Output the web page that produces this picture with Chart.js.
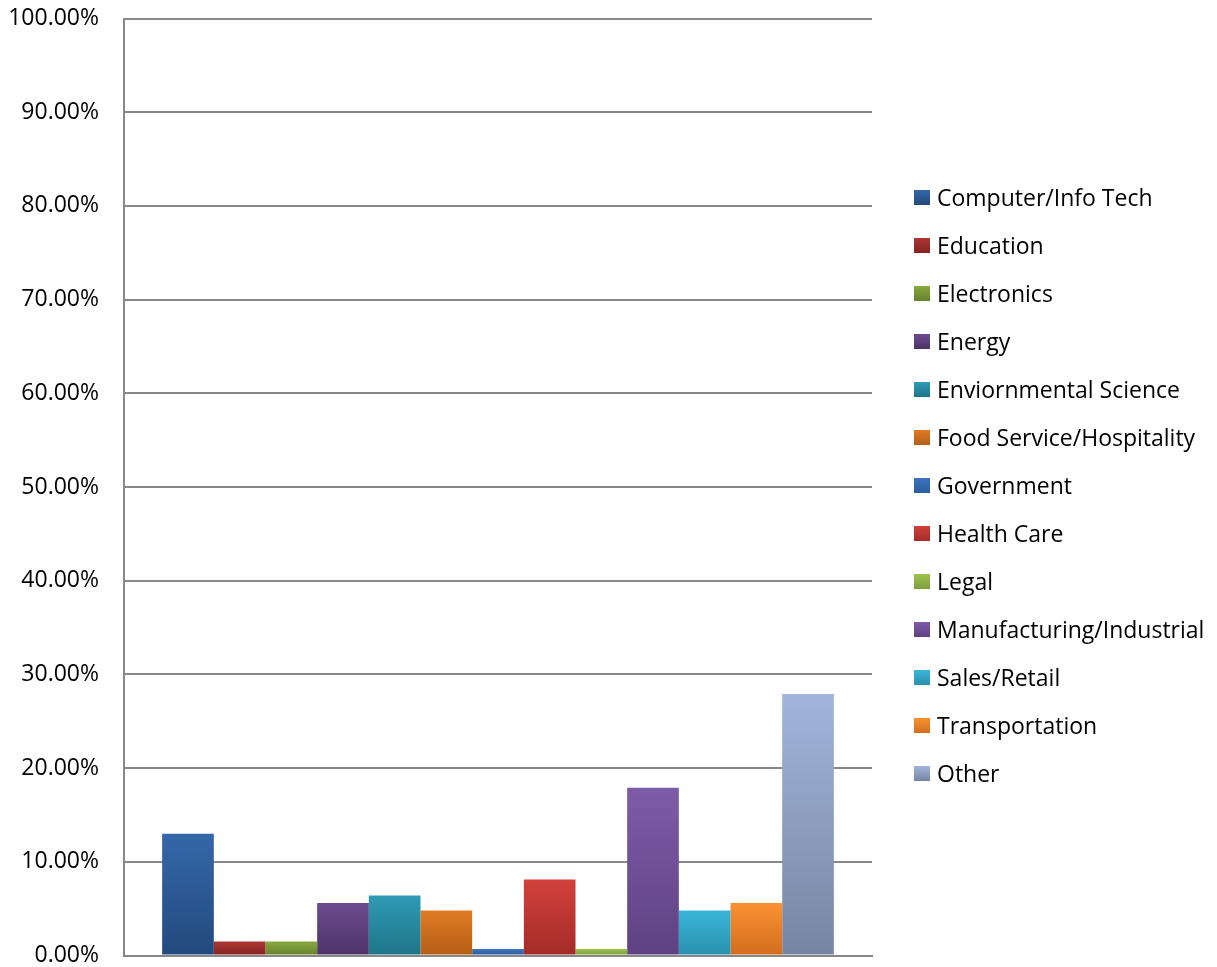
<!DOCTYPE html>
<html>
<head>
<meta charset="utf-8">
<script src="https://cdn.jsdelivr.net/npm/chart.js@4.4.1/dist/chart.umd.min.js"></script>
<style>
  html, body { margin: 0; padding: 0; background: #fff; }
  #wrap { position: relative; width: 1217px; height: 967px; }
  #legend { position: absolute; left: 914px; top: 173px; font-family: 'Open Sans', sans-serif; font-size: 23px; color: #000; }
  #legend .item { display: flex; align-items: center; height: 48px; white-space: nowrap; }
  #legend .box { width: 16px; height: 15px; margin-right: 7px; flex: none; }
</style>
</head>
<body>
<div id="wrap">
  <canvas id="chart" width="1217" height="967"></canvas>
  <div id="legend"></div>
</div>
<script>
const industries = ['Computer/Info Tech', 'Education', 'Electronics', 'Energy',
  'Enviornmental Science', 'Food Service/Hospitality', 'Government', 'Health Care',
  'Legal', 'Manufacturing/Industrial', 'Sales/Retail', 'Transportation', 'Other'];
const shares = [13.0, 1.5, 1.5, 5.6, 6.4, 4.8, 0.7, 8.1, 0.7, 17.9, 4.8, 5.6, 27.9];
// light top / dark bottom, like the office gradient fill
const topColors = ['#3567a9', '#ab3733', '#88a940', '#6b4b8e', '#2f9ab5', '#e07b24',
  '#3c74bf', '#d2413c', '#9cc34f', '#7e5ba8', '#39b6d8', '#fa9233', '#a1b5dc'];
const bottomColors = ['#224a7d', '#852220', '#66822c', '#4d3467', '#1e7589', '#b45e16',
  '#2c5d9c', '#a42b28', '#7e9f39', '#5e4282', '#2990ad', '#d16d1d', '#7685a2'];
const yTicks = [0, 10, 20, 30, 40, 50, 60, 70, 80, 90, 100];

function barFill(i) {
  return function(context) {
    const chart = context.chart;
    const {ctx, chartArea} = chart;
    if (!chartArea || context.type !== 'data') {
      return topColors[i];
    }
    const y = chart.scales.y;
    const top = y.getPixelForValue(context.raw);
    const bottom = y.getPixelForValue(0);
    const g = ctx.createLinearGradient(0, top, 0, bottom);
    g.addColorStop(0, topColors[i]);
    g.addColorStop(1, bottomColors[i]);
    return g;
  };
}

const datasets = industries.map((name, i) => ({
  label: name,
  data: [shares[i]],
  backgroundColor: barFill(i),
  borderWidth: 0,
  categoryPercentage: 0.898,
  barPercentage: 1.0
}));

const chart = new Chart(document.getElementById('chart'), {
  type: 'bar',
  data: { labels: [''], datasets: datasets },
  options: {
    responsive: false,
    animation: false,
    layout: { padding: { left: 0, top: 18.5, bottom: 11.5, right: 345 } },
    font: { family: 'Open Sans', size: 23 },
    scales: {
      x: {
        grid: { display: false, drawTicks: false },
        border: { display: true, color: '#888888', width: 2 },
        ticks: { display: false },
        afterFit: (s) => { s.height = 0; s.paddingLeft = 0; s.paddingRight = 0; }
      },
      y: {
        min: 0,
        max: 100,
        afterBuildTicks: (axis) => { axis.ticks = yTicks.map(v => ({ value: v })); },
        // labels sit left of the axis, don't let them push the plot down
        afterFit: (s) => { s.width = 124; s.paddingTop = 0; s.paddingBottom = 0; },
        grid: { color: '#888888', lineWidth: 2, drawTicks: false },
        border: { display: true, color: '#888888', width: 2 },
        ticks: {
          color: '#000',
          padding: 25,
          font: { family: 'Open Sans', size: 23 },
          callback: (v) => v.toFixed(2) + '%'
        }
      }
    },
    plugins: {
      legend: { display: false },
      tooltip: { enabled: false }
    }
  }
});

// legend as html, same order as the datasets
const legendEl = document.getElementById('legend');
chart.data.datasets.forEach((ds, i) => {
  const item = document.createElement('div');
  item.className = 'item';
  const box = document.createElement('span');
  box.className = 'box';
  box.style.background = 'linear-gradient(' + topColors[i] + ', ' + bottomColors[i] + ')';
  const txt = document.createElement('span');
  txt.textContent = ds.label;
  item.appendChild(box);
  item.appendChild(txt);
  legendEl.appendChild(item);
});
</script>
</body>
</html>
